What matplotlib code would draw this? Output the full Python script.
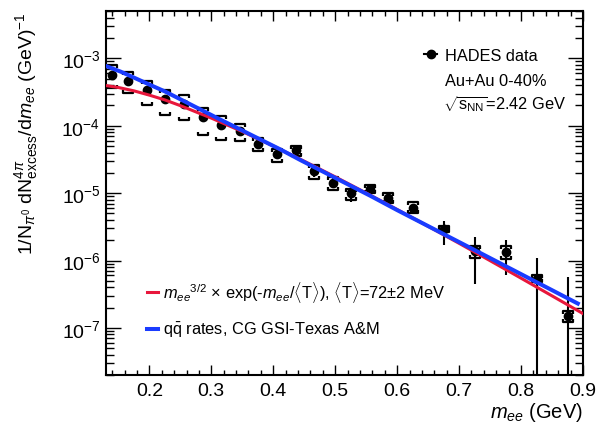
## import libraries ##
import matplotlib
matplotlib.use('Agg')
import matplotlib.pyplot as plt
import numpy as np
from matplotlib.path import Path
from matplotlib.lines import Line2D
from matplotlib.ticker import MultipleLocator, LogLocator, FormatStrFormatter, NullFormatter

plt.rcParams['font.family'] = ['Liberation Sans', 'DejaVu Sans']
plt.rcParams['mathtext.fontset'] = 'custom'
plt.rcParams['mathtext.rm'] = 'Liberation Sans'
plt.rcParams['mathtext.it'] = 'Liberation Sans:italic'
plt.rcParams['mathtext.bf'] = 'Liberation Sans:bold'

## data ##
mass = [0.140, 0.166, 0.196, 0.226, 0.256, 0.286, 0.316, 0.346, 0.376, 0.406, 0.436,
        0.466, 0.496, 0.526, 0.556, 0.586, 0.626, 0.676, 0.726, 0.776, 0.826, 0.876]
yield_excess = [5.67e-4, 4.68e-4, 3.40e-4, 2.51e-4, 2.12e-4, 1.33e-4, 1.01e-4, 8.27e-5,
                5.44e-5, 3.84e-5, 4.34e-5, 2.10e-5, 1.43e-5, 1.00e-5, 1.14e-5, 8.42e-6,
                5.93e-6, 2.94e-6, 1.40e-6, 1.33e-6, 5.37e-7, 1.49e-7]
stat_low = [5.3e-4, 4.35e-4, 3.15e-4, 2.33e-4, 1.96e-4, 1.22e-4, 9.2e-5, 7.5e-5,
            4.9e-5, 3.4e-5, 3.9e-5, 1.75e-5, 1.2e-5, 7.3e-6, 1.02e-5, 7.4e-6,
            5.1e-6, 1.71e-6, 4.53e-7, 6.0e-7, 1e-10, 1e-10]
stat_high = [6.1e-4, 5.0e-4, 3.65e-4, 2.70e-4, 2.28e-4, 1.44e-4, 1.10e-4, 9.1e-5,
             6.0e-5, 4.3e-5, 4.8e-5, 2.45e-5, 1.65e-5, 1.22e-5, 1.28e-5, 9.5e-6,
             6.9e-6, 3.89e-6, 2.21e-6, 2.04e-6, 1.08e-6, 5.69e-7]
sys_high = [7.96e-4, 6.22e-4, 4.68e-4, 3.40e-4, 2.88e-4, 1.83e-4, 1.41e-4, 1.06e-4,
            6.61e-5, 4.55e-5, 5.08e-5, 2.60e-5, 1.75e-5, 1.14e-5, 1.32e-5, 1.02e-5,
            7.27e-6, 3.28e-6, 1.63e-6, 1.66e-6, 6.15e-7, 1.77e-7]
sys_low = [3.61e-4, 3.11e-4, 2.05e-4, 1.46e-4, 1.20e-4, 7.21e-5, 6.24e-5, 6.03e-5,
           4.19e-5, 2.88e-5, 3.54e-5, 1.64e-5, 1.11e-5, 7.9e-6, 1.02e-5, 7.10e-6,
           5.00e-6, 2.62e-6, 1.08e-6, 1.06e-6, 4.80e-7, 1.23e-7]

fit_mass = [0.13, 0.15, 0.175, 0.2, 0.225, 0.25, 0.3, 0.35, 0.4, 0.45, 0.5, 0.55,
            0.6, 0.65, 0.7, 0.75, 0.8, 0.85, 0.9]
fit_values = [3.95e-4, 3.70e-4, 3.30e-4, 2.85e-4, 2.42e-4, 1.99e-4, 1.30e-4, 8.21e-5,
              5.01e-5, 2.98e-5, 1.745e-5, 1.005e-5, 5.72e-6, 3.22e-6, 1.80e-6,
              9.95e-7, 5.47e-7, 2.99e-7, 1.63e-7]

rates_mass = [0.13, 0.154, 0.2, 0.2255, 0.315, 0.412, 0.444, 0.557, 0.6, 0.727, 0.8916]
rates_values = [7.7e-4, 6.34e-4, 4.09e-4, 3.22e-4, 1.23e-4, 4.43e-5, 3.09e-5, 9.1e-6,
                5.6e-6, 1.40e-6, 2.30e-7]

## set up figure ##
fig = plt.figure(figsize=(6, 4.27), dpi=100)
ax = fig.add_axes([106 / 600, 1 - 376 / 427, 477 / 600, 363.7 / 427])
ax.set_yscale('log')
ax.set_xlim(0.13, 0.9)
ax.set_ylim(2e-8, 5e-3)

y = np.array(yield_excess)
yerr = [y - np.array(stat_low), np.array(stat_high) - y]
ax.errorbar(mass, yield_excess, yerr=yerr, fmt='o', color='black', ms=6,
            elinewidth=1.5, capsize=0, zorder=3)

# systematic brackets
upper_br = Path([(-1, -0.6), (-1, 0), (1, 0), (1, -0.6)])
lower_br = Path([(-1, 0.6), (-1, 0), (1, 0), (1, 0.6)])
ax.plot(mass, sys_high, ls='none', marker=upper_br, ms=6.5, mew=1.6,
        mfc='none', mec='black', zorder=3)
ax.plot(mass, sys_low, ls='none', marker=lower_br, ms=6.5, mew=1.6,
        mfc='none', mec='black', zorder=3)

red_line, = ax.plot(fit_mass, fit_values, color='#e8173c', lw=2.2, zorder=4)
blue_line, = ax.plot(rates_mass, rates_values, color='#1a3cff', lw=2.9, zorder=5)

## axes styling ##
for s in ax.spines.values():
    s.set_linewidth(1.5)
ax.xaxis.set_major_locator(MultipleLocator(0.1))
ax.xaxis.set_minor_locator(MultipleLocator(0.02))
ax.xaxis.set_major_formatter(FormatStrFormatter('%.1f'))
ax.yaxis.set_major_locator(LogLocator(base=10, numticks=20))
ax.yaxis.set_minor_locator(LogLocator(base=10, subs=np.arange(2, 10), numticks=20))
ax.yaxis.set_minor_formatter(NullFormatter())
ax.tick_params(which='both', direction='in', top=True, right=True, labelsize=14)
ax.tick_params(axis='x', which='major', length=7, width=1, pad=5)
ax.tick_params(axis='x', which='minor', length=3.5, width=1)
ax.tick_params(axis='y', which='major', length=11, width=1, pad=4)
ax.tick_params(axis='y', which='minor', length=5.5, width=1)

ax.set_xlabel(r'$m_{ee}$ (GeV)', fontsize=14.5, loc='right')
ax.xaxis.set_label_coords(1.0, -0.07)
ax.set_ylabel(r'1/N$_{\pi^0}$ dN$^{4\pi}_{\mathrm{excess}}$/d$m_{ee}$ (GeV)$^{-1}$',
              fontsize=14, loc='top')
ax.yaxis.set_label_coords(-0.138, 1.0)

## legends ##
hades = Line2D([], [], color='black', marker='o', ms=6, lw=1.5)
leg1 = ax.legend([hades], ['HADES data'], loc='center left', bbox_to_anchor=(0.667, 0.878),
                 frameon=False, fontsize=11.8, handlelength=0.8, handletextpad=0.5,
                 borderpad=0, borderaxespad=0)
ax.add_artist(leg1)
ax.text(0.711, 0.809, 'Au+Au 0-40%', transform=ax.transAxes, fontsize=11.8, va='center')
ax.text(0.706, 0.748, r'$\sqrt{\mathrm{s_{NN}}}$=2.42 GeV', transform=ax.transAxes,
        fontsize=11.8, va='center')

ax.legend([red_line, blue_line],
          [r'${m_{ee}}^{3/2}$ × exp(-$m_{ee}$/$\langle$T$\rangle$), '
           r'$\langle$T$\rangle$=72$\pm$2 MeV',
           r'$\mathrm{q\bar{q}}$ rates, CG GSI-Texas A&M'],
          loc='center left', bbox_to_anchor=(0.0853, 0.1815), frameon=False,
          fontsize=11.8, handlelength=0.7, handletextpad=0.3, labelspacing=1.0,
          borderpad=0, borderaxespad=0)

## save ##
plt.savefig('out.png', dpi=100)
